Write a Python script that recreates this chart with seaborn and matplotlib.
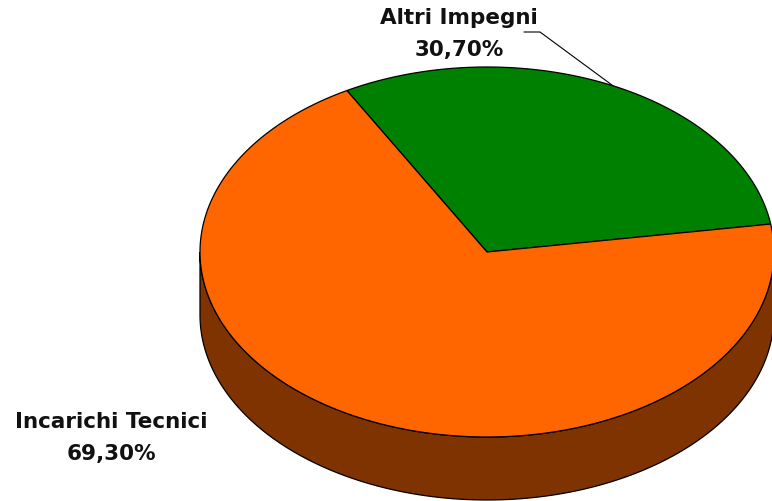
import numpy as np
import matplotlib
matplotlib.use("Agg")
import matplotlib.pyplot as plt
from matplotlib.patches import Polygon
import seaborn as sns

# Data
categories = ["Altri Impegni", "Incarichi Tecnici"]
shares = [30.70, 69.30]
colors = ["#008000", "#FF6600"]
side_color = "#7F3300"

sns.set_style("white")
plt.rcParams['font.family'] = ['DejaVu Sans']

# ellipse geometry (pixel-like coordinates)
cx, cy = 487, 253
a, b = 287, 185
depth = 63
start = 8.7  # degrees

fig = plt.figure(figsize=(7.72, 5.02), dpi=100)
ax = fig.add_axes([0, 0, 1, 1])
ax.set_xlim(0, 772)
ax.set_ylim(502, 0)
ax.axis("off")


def pt(t_deg, dy=0):
    t = np.radians(t_deg)
    return cx + a * np.cos(t), cy - b * np.sin(t) + dy


# side wall (front half: 180..360 deg)
ts = np.linspace(180, 360, 200)
top = [pt(t) for t in ts]
bot = [pt(t, depth) for t in ts[::-1]]
ax.add_patch(Polygon(top + bot, closed=True, facecolor=side_color,
                     edgecolor="black", lw=0.9, zorder=1))

# top wedges
angles = np.cumsum([0] + [s / sum(shares) * 360 for s in shares]) + start
mids = []
for i, (s, c) in enumerate(zip(shares, colors)):
    t1, t2 = angles[i], angles[i + 1]
    arc = [pt(t) for t in np.linspace(t1, t2, 200)]
    ax.add_patch(Polygon([(cx, cy)] + arc, closed=True, facecolor=c,
                         edgecolor="black", lw=0.9, zorder=2))
    mids.append((t1 + t2) / 2)


def fmt(v):
    return f"{v:.2f}".replace(".", ",") + "%"


font = dict(fontsize=15.5, fontweight="bold", color="#111111",
            ha="center", va="center", linespacing=1.75)
ax.text(459, 34, f"{categories[0]}\n{fmt(shares[0])}", **font)
ax.text(111, 438, f"{categories[1]}\n{fmt(shares[1])}", **font)

# leader line for first label
ex, ey = pt(mids[0])
ax.plot([524, 540, ex], [33, 33, ey], color="black", lw=0.8, zorder=3)

fig.savefig("out.png", dpi=100)
